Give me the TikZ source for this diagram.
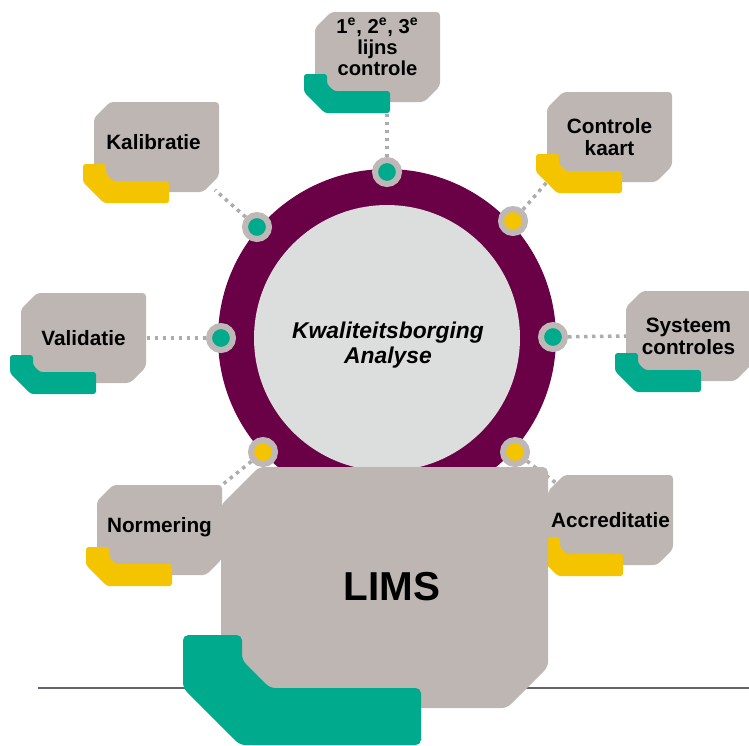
\documentclass[tikz,border=0pt]{standalone}
\usepackage{fontspec}
\setmainfont{Liberation Sans}
\definecolor{boxgray}{RGB}{189,182,179}
\definecolor{dotgray}{RGB}{190,184,182}
\definecolor{ringpurple}{RGB}{106,0,70}
\definecolor{innergray}{RGB}{220,221,221}
\definecolor{kgreen}{RGB}{0,170,140}
\definecolor{kyellow}{RGB}{245,196,0}
\definecolor{linkgray}{RGB}{172,172,176}
\definecolor{floorgray}{RGB}{100,100,106}

\tikzset{
  boxtext/.style={font=\fontsize{11.8}{12.5}\selectfont\bfseries,align=center,inner sep=0pt},
  kdot/.style={circle,draw=dotgray,line width=0.12cm,minimum size=0.48cm,inner sep=0pt},
  dotlink/.style={linkgray,line width=0.07cm,dash pattern=on 0.07cm off 0.09cm}
}

% small box with its coloured tab: [node options]{name}{x}{y}{tab colour}{text}
\newcommand{\kbox}[6][]{%
  \begin{scope}[shift={(#3,#4)}]
    \fill[boxgray,rounded corners=2pt] (0,16) -- (16,0) -- (125,0) -- (125,74) -- (109,90) -- (0,90) -- cycle;
    \fill[#5,rounded corners=1.5pt] (-11,62) -- (12,62) -- (12,72) -- (19,79) -- (75,79) -- (75,101) -- (10,101) -- (-11,80) -- cycle;
    \coordinate (#2-s) at (62,101);
    \coordinate (#2-e) at (125,45);
    \coordinate (#2-w) at (0,45);
    \coordinate (#2-ne) at (125,0);
    \coordinate (#2-nw) at (8,8);
    \coordinate (#2-se) at (121,88);
    \coordinate (#2-sw) at (0,90);
    \node[boxtext,#1] (#2) at (62.5,45) {#6};
  \end{scope}}

\begin{document}
\begin{tikzpicture}[x=0.02cm,y=-0.02cm]
\useasboundingbox (0,0) rectangle (749,745);
\coordinate (c) at (387,338);

\draw[floorgray,line width=0.04cm] (38,688) -- (749,688);

% ring
\fill[ringpurple] (c) circle (3.38cm);
\fill[innergray] (c) circle (2.66cm);
\node[font=\fontsize{13}{14}\selectfont\bfseries\itshape,align=center] (kwal) at (388,345) {Kwaliteitsborging\\Analyse};

\node[kdot,fill=kgreen] (dtop) at (387,172) {};
\node[kdot,fill=kgreen] (dul) at (257,227) {};
\node[kdot,fill=kyellow] (dur) at (513,221) {};
\node[kdot,fill=kgreen] (dl) at (221,338) {};
\node[kdot,fill=kgreen] (dr) at (553,337) {};
\node[kdot,fill=kyellow] (dll) at (263,452) {};
\node[kdot,fill=kyellow] (dlr) at (515,452) {};

% boxes
\kbox[yshift=0.2cm,font=\fontsize{11.5}{12.2}\selectfont\bfseries]{lijn}{315}{12}{kgreen}{1\textsuperscript{e}, 2\textsuperscript{e}, 3\textsuperscript{e}\\lijns\\controle}
\kbox[xshift=-0.06cm,yshift=0.1cm]{kalib}{94}{102}{kyellow}{Kalibratie}
\kbox{contr}{547}{92}{kyellow}{Controle\\kaart}
\kbox{valid}{21}{293}{kgreen}{Validatie}
\kbox{syst}{626}{291}{kgreen}{Systeem\\controles}
\kbox[yshift=0.05cm]{norm}{97}{485}{kyellow}{Normering}
\kbox{accr}{548}{475}{kyellow}{Accreditatie}

% links
\draw[dotlink] (dtop) -- (dtop |- lijn-s);
\draw[dotlink] (dul) -- (kalib-se);
\draw[dotlink] (dur) -- (contr-sw);
\draw[dotlink] (dl) -- (valid-e);
\draw[dotlink] (dr) -- (syst-w);
\draw[dotlink] (dll) -- (norm-ne);
\draw[dotlink] (dlr) -- (accr-nw);

% LIMS
\fill[boxgray,rounded corners=3pt] (221,505) -- (259,467) -- (548,467) -- (548,667) -- (507,708) -- (221,708) -- cycle;
\fill[kgreen,rounded corners=3pt] (183,635) -- (242,635) -- (242,660) -- (270,688) -- (421,688) -- (421,745) -- (240,745) -- (183,688) -- cycle;
\node[font=\fontsize{23}{27}\selectfont\bfseries] (lims) at (392,587) {LIMS};
\end{tikzpicture}
\end{document}
